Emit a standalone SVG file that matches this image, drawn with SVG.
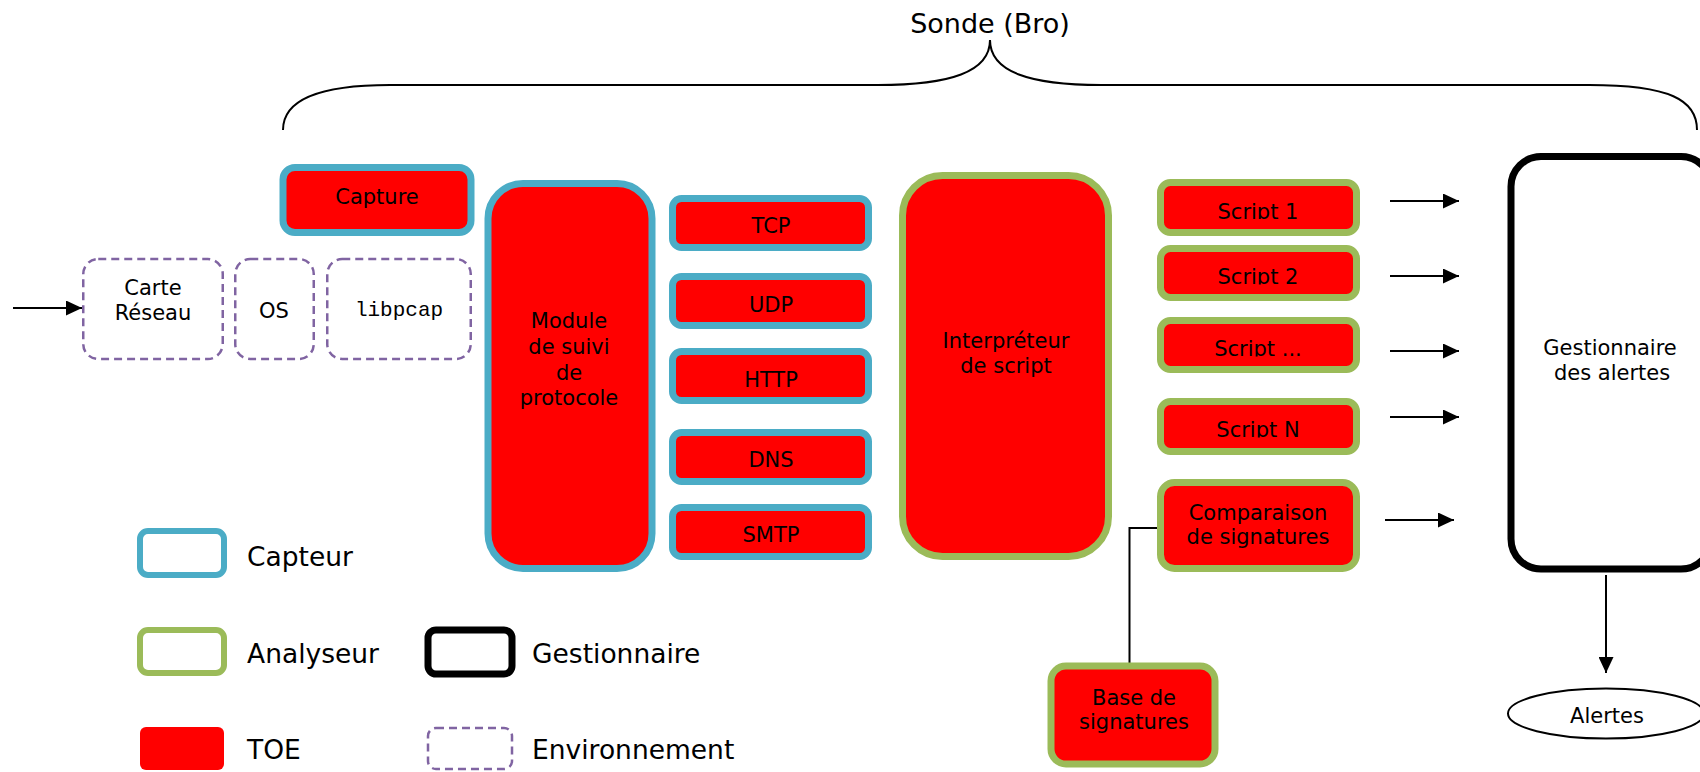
<svg xmlns="http://www.w3.org/2000/svg" width="1700" height="772" viewBox="0 0 1700 772">
<style>
.cap{fill:#FF0000;stroke:#4BACC6;stroke-width:7}
.ana{fill:#FF0000;stroke:#9BBB59;stroke-width:7}
.env{fill:#FFFFFF;stroke:#8064A2;stroke-width:2.5;stroke-dasharray:8 5}
.gest{fill:#FFFFFF;stroke:#000000;stroke-width:7}
.t{font-family:"DejaVu Sans",Verdana,sans-serif;font-size:21px;text-anchor:middle;fill:#000}
.m{font-family:"Liberation Mono","Courier New",monospace;font-size:21px;text-anchor:middle;fill:#000}
.lg{font-family:"DejaVu Sans",Verdana,sans-serif;font-size:26.5px;fill:#000}
.ln{fill:none;stroke:#000;stroke-width:2}
</style>
<defs>
<marker id="ah" viewBox="0 0 16 15" refX="16" refY="7.5" markerWidth="16" markerHeight="15" markerUnits="userSpaceOnUse" orient="auto">
<path d="M0,0 L16,7.5 L0,15 z" fill="#000"/>
</marker>
<clipPath id="c1"><rect x="1160" y="180" width="200" height="39"/></clipPath>
<clipPath id="c2"><rect x="1160" y="245" width="200" height="39.5"/></clipPath>
<clipPath id="c3"><rect x="1160" y="317" width="200" height="39.5"/></clipPath>
<clipPath id="c4"><rect x="1160" y="398" width="200" height="39.5"/></clipPath>
<clipPath id="c5"><rect x="1500" y="690" width="200" height="34"/></clipPath>
</defs>

<g id="brace">
<path class="ln" d="M283,130 C283,100 320,85 390,85 L878,85 C950,85 990,72 990,40 C990,72 1030,85 1101,85 L1589,85 C1670,85 1697,100 1697,130"/>
<text class="t" x="990" y="33" style="font-size:27px">Sonde (Bro)</text>
</g>

<g id="connectors">
<line class="ln" x1="13" y1="308" x2="82" y2="308" marker-end="url(#ah)"/>
<line class="ln" x1="1390" y1="201" x2="1459" y2="201" marker-end="url(#ah)"/>
<line class="ln" x1="1390" y1="276" x2="1459" y2="276" marker-end="url(#ah)"/>
<line class="ln" x1="1390" y1="351" x2="1459" y2="351" marker-end="url(#ah)"/>
<line class="ln" x1="1390" y1="417" x2="1459" y2="417" marker-end="url(#ah)"/>
<line class="ln" x1="1385" y1="520" x2="1454" y2="520" marker-end="url(#ah)"/>
<line class="ln" x1="1606" y1="575" x2="1606" y2="673" marker-end="url(#ah)"/>
<polyline class="ln" points="1157,528 1129.5,528 1129.5,663"/>
</g>

<g id="carte"><rect class="env" x="83.25" y="259" width="139.5" height="100" rx="15"/>
<text class="t" x="153" y="295">Carte</text><text class="t" x="153" y="320">Réseau</text></g>
<g id="os"><rect class="env" x="235.25" y="259" width="78.5" height="100" rx="15"/>
<text class="t" x="274" y="318">OS</text></g>
<g id="libpcap"><rect class="env" x="327.25" y="259" width="143.5" height="100" rx="15"/>
<text class="m" x="399" y="316">libpcap</text></g>

<g id="capture"><rect class="cap" x="283" y="167.5" width="188" height="65" rx="12"/>
<text class="t" x="377" y="204">Capture</text></g>

<g id="module"><rect class="cap" x="488" y="183.5" width="164" height="385" rx="35"/>
<text class="t" x="569" y="328">Module</text><text class="t" x="569" y="354">de suivi</text><text class="t" x="569" y="380">de</text><text class="t" x="569" y="405">protocole</text></g>

<g id="tcp"><rect class="cap" x="672.5" y="198.5" width="196" height="49" rx="9"/><text class="t" x="771" y="233">TCP</text></g>
<g id="udp"><rect class="cap" x="672.5" y="276.5" width="196" height="49" rx="9"/><text class="t" x="771" y="312">UDP</text></g>
<g id="http"><rect class="cap" x="672.5" y="351.5" width="196" height="49" rx="9"/><text class="t" x="771" y="387">HTTP</text></g>
<g id="dns"><rect class="cap" x="672.5" y="432.5" width="196" height="49" rx="9"/><text class="t" x="771" y="467">DNS</text></g>
<g id="smtp"><rect class="cap" x="672.5" y="507.5" width="196" height="49" rx="9"/><text class="t" x="771" y="542">SMTP</text></g>

<g id="interpreteur"><rect class="ana" x="902.5" y="175.5" width="206" height="381" rx="40"/>
<text class="t" x="1006" y="348">Interpréteur</text><text class="t" x="1006" y="373">de script</text></g>

<g id="script1"><rect class="ana" x="1160.5" y="182.5" width="196" height="50" rx="10"/><text class="t" x="1258" y="219" clip-path="url(#c1)">Script 1</text></g>
<g id="script2"><rect class="ana" x="1160.5" y="248.5" width="196" height="49" rx="10"/><text class="t" x="1258" y="284" clip-path="url(#c2)">Script 2</text></g>
<g id="script3"><rect class="ana" x="1160.5" y="320.5" width="196" height="49" rx="10"/><text class="t" x="1258" y="356" clip-path="url(#c3)">Script ...</text></g>
<g id="scriptN"><rect class="ana" x="1160.5" y="401.5" width="196" height="50" rx="10"/><text class="t" x="1258" y="437" clip-path="url(#c4)">Script N</text></g>
<g id="comparaison"><rect class="ana" x="1160.5" y="482.5" width="196" height="86" rx="14"/>
<text class="t" x="1258" y="520">Comparaison</text><text class="t" x="1258" y="544">de signatures</text></g>

<g id="base"><rect class="ana" x="1051" y="666" width="164" height="98" rx="15"/>
<text class="t" x="1134" y="705">Base de</text><text class="t" x="1134" y="729">signatures</text></g>

<g id="gestionnaire"><rect class="gest" x="1511" y="156.5" width="200" height="412.5" rx="30"/>
<text class="t" x="1610" y="355">Gestionnaire</text><text class="t" x="1612" y="380">des alertes</text></g>

<g id="alertes"><ellipse cx="1606" cy="713.5" rx="98" ry="25" fill="#fff" stroke="#000" stroke-width="2"/>
<text class="t" x="1607" y="723" clip-path="url(#c5)">Alertes</text></g>

<g id="legend">
<rect x="140" y="531" width="84" height="44" rx="8" fill="#fff" stroke="#4BACC6" stroke-width="6"/>
<text class="lg" x="247" y="566">Capteur</text>
<rect x="140" y="630" width="84" height="43" rx="8" fill="#fff" stroke="#9BBB59" stroke-width="6"/>
<text class="lg" x="247" y="663">Analyseur</text>
<rect x="140" y="727" width="84" height="43" rx="6" fill="#FF0000"/>
<text class="lg" x="247" y="759">TOE</text>
<rect x="428" y="630" width="84" height="44" rx="8" fill="#fff" stroke="#000" stroke-width="7"/>
<text class="lg" x="532" y="663">Gestionnaire</text>
<rect x="428" y="728" width="84" height="41" rx="8" fill="#fff" stroke="#8064A2" stroke-width="2.5" stroke-dasharray="8 5"/>
<text class="lg" x="532" y="759">Environnement</text>
</g>
</svg>
